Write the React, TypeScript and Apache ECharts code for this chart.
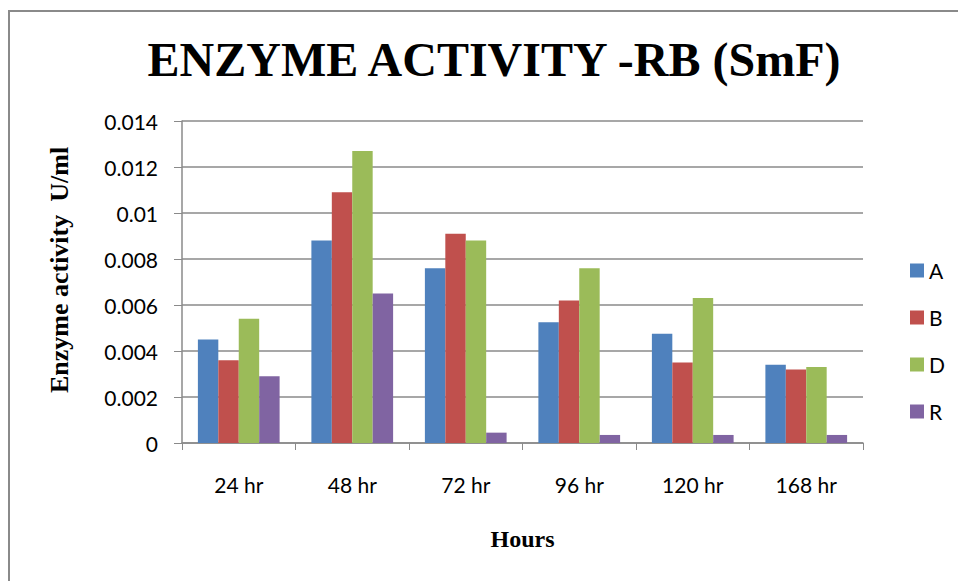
import React, { useEffect, useRef } from "react";
import * as echarts from "echarts";

const categories = ["24 hr", "48 hr", "72 hr", "96 hr", "120 hr", "168 hr"];
const seriesA = [0.0045, 0.0088, 0.0076, 0.00525, 0.00475, 0.0034];
const seriesB = [0.0036, 0.0109, 0.0091, 0.0062, 0.0035, 0.0032];
const seriesD = [0.0054, 0.0127, 0.0088, 0.0076, 0.0063, 0.0033];
const seriesR = [0.0029, 0.0065, 0.00045, 0.00035, 0.00035, 0.00035];
const seriesNames = ["A", "B", "D", "R"];
const seriesColors = ["#4F81BD", "#C0504D", "#9BBB59", "#8064A2"];

export default function App() {
  const ref = useRef<HTMLDivElement>(null);
  useEffect(() => {
    if (!ref.current) return;
    const chart = echarts.init(ref.current, undefined, { renderer: "svg" });
    const data = [seriesA, seriesB, seriesD, seriesR];
    const labelFont = "Lato, 'Open Sans', sans-serif";
    const serif = "'Liberation Serif', 'Times New Roman', serif";
    chart.setOption({
      animation: false,
      backgroundColor: "#ffffff",
      title: {
        text: "ENZYME ACTIVITY -RB (SmF)",
        left: 489,
        top: 30,
        textAlign: "center",
        textStyle: {
          fontFamily: serif,
          fontWeight: "bold",
          fontSize: 48,
          color: "#000",
        },
      },
      graphic: [
        {
          type: "polyline",
          shape: { points: [[9, 581], [9, 11], [958, 11]] },
          style: { stroke: "#8a8a8a", lineWidth: 2, fill: "none" },
          silent: true,
        },
      ],
      legend: {
        orient: "vertical",
        left: 905,
        top: 255,
        itemWidth: 14,
        itemHeight: 14,
        itemGap: 26,
        icon: "rect",
        data: seriesNames,
        textStyle: { fontFamily: labelFont, fontSize: 21, color: "#000" },
      },
      grid: { left: 182, right: 95, top: 121, bottom: 138 },
      xAxis: {
        type: "category",
        data: categories,
        name: "Hours",
        nameLocation: "middle",
        nameGap: 84,
        nameTextStyle: {
          fontFamily: serif,
          fontWeight: "bold",
          fontSize: 24,
          color: "#000",
        },
        axisLine: { lineStyle: { color: "#8a8a8a", width: 1.5 } },
        axisTick: { show: true, length: 7, inside: false, lineStyle: { color: "#8a8a8a" } },
        axisLabel: { fontFamily: labelFont, fontSize: 21, color: "#000", margin: 31 },
      },
      yAxis: {
        type: "value",
        min: 0,
        max: 0.014,
        interval: 0.002,
        name: "Enzyme activity  U/ml",
        nameLocation: "middle",
        nameRotate: 90,
        nameGap: 110,
        nameTextStyle: {
          fontFamily: serif,
          fontWeight: "bold",
          fontSize: 26,
          color: "#000",
          padding: [0, 0, 0, 24],
        },
        axisLine: { show: true, lineStyle: { color: "#8a8a8a", width: 1.5 } },
        axisTick: { show: true, length: 8, lineStyle: { color: "#8a8a8a" } },
        splitLine: { show: true, lineStyle: { color: "#8a8a8a", width: 1.5 } },
        axisLabel: {
          fontFamily: labelFont,
          fontSize: 21,
          color: "#000",
          margin: 24,
          formatter: (v: number) => String(parseFloat(v.toFixed(3))),
        },
      },
      series: data.map((d, i) => ({
        name: seriesNames[i],
        type: "bar",
        data: d,
        barGap: "0%",
        barCategoryGap: "28%",
        itemStyle: { color: seriesColors[i] },
      })),
    });
    return () => chart.dispose();
  }, []);
  return (
    <div
      ref={ref}
      style={{ position: "fixed", left: 0, top: 0, width: 958, height: 581 }}
    />
  );
}
